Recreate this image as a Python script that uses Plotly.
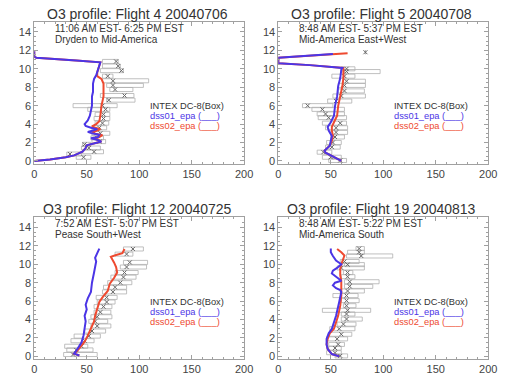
import plotly.graph_objects as go

# ---------------- data ----------------
titles = ["O3 profile: Flight 4 20040706", "O3 profile: Flight 5 20040708",
          "O3 profile: Flight 12 20040725", "O3 profile: Flight 19 20040813"]
time_labels = ["11:06 AM EST- 6:25 PM EST", "8:48 AM EST- 5:37 PM EST",
               "7:52 AM EST- 5:07 PM EST", "8:48 AM EST- 5:22 PM EST"]
region_labels = ["Dryden to Mid-America", "Mid-America East+West",
                 "Pease South+West", "Mid-America South"]
legend_labels = ["INTEX DC-8(Box)", "dss01_epa (___)", "dss02_epa (___)"]
x_ticks = [0, 50, 100, 150, 200]
y_ticks = [0, 2, 4, 6, 8, 10, 12, 14]

# Flight 4
f4_box_alt = [10.8, 10.3, 9.8, 9.2, 8.7, 8.2, 7.75, 7.1, 6.6, 6.0, 5.6, 5.05, 4.6, 4.1, 3.6, 3.0, 2.5, 2.1, 1.8, 1.4, 1.0, 0.75, 0.4]
f4_box_lo = [65, 65, 63, 65, 65, 69, 72, 63, 69, 37, 51, 58, 57, 58, 55, 55, 54, 55, 46, 45, 46, 31, 40]
f4_box_hi = [80, 82, 85, 75, 109, 104, 94, 95, 96, 79, 72, 72, 72, 71, 69, 72, 66, 68, 54, 63, 66, 45, 54]
f4_box_mid = [78, 80, 83, 70, 75, 75, 77, 86, 71, 65, 68, 66, 66, 65, 62, 63, 60, 62, 48, 52, 57, 34, 47]
f4_blue_x = [0, 15, 30, 38, 46, 49, 50, 57, 64, 60, 54, 61, 62, 55, 51, 56, 60, 54, 49, 48, 51, 53, 54, 55, 55, 56, 56, 57, 59, 60, 61, 62, 63, 40, 10, 2, 0, 0]
f4_blue_alt = [0, 0.15, 0.4, 0.6, 1.0, 1.4, 1.7, 1.9, 2.1, 2.3, 2.45, 2.6, 2.85, 3.0, 3.15, 3.3, 3.45, 3.6, 3.8, 4.0, 4.4, 4.9, 5.5, 6.0, 7.0, 7.5, 8.4, 8.9, 9.3, 9.6, 10.0, 10.4, 10.7, 10.9, 11.1, 11.2, 11.3, 11.9]
f4_red_x = [0, 15, 30, 38, 46, 49, 50, 58, 64, 60, 57, 62, 65, 58, 55, 60, 63, 58, 55, 59, 62, 63, 64, 66, 66, 66, 64, 60, 60, 62, 63, 40, 10, 2, 0, 0]
f4_red_alt = [0, 0.15, 0.4, 0.6, 1.0, 1.4, 1.7, 1.9, 2.1, 2.3, 2.45, 2.6, 2.8, 2.95, 3.1, 3.3, 3.45, 3.6, 3.75, 4.0, 4.3, 4.9, 5.95, 7.0, 8.0, 8.4, 8.9, 9.2, 9.6, 10.2, 10.7, 10.9, 11.1, 11.2, 11.3, 11.9]

# Flight 5
f5_box_alt = [11.8, 10.0, 9.7, 9.2, 8.65, 8.2, 7.6, 7.05, 6.5, 6.0, 5.6, 5.1, 4.7, 4.1, 3.6, 3.1, 2.6, 2.0, 1.5, 0.95, 0.4, 0.05]
f5_box_lo = [83, 60, 63, 51, 62, 57, 57, 52, 47, 23, 32, 37, 38, 42, 45, 50, 50, 46, 45, 37, 42, 48]
f5_box_hi = [83, 73, 97, 73, 83, 83, 82, 83, 70, 52, 63, 63, 65, 65, 66, 66, 63, 60, 59, 51, 60, 65]
f5_box_mid = [83, 65, 65, 63, 65, 63, 63, 60, 55, 28, 42, 45, 48, 59, 55, 55, 54, 52, 51, 43, 50, 59]
f5_blue_x = [60, 52, 45, 44, 49, 50, 51, 48, 47, 50, 53, 54, 56, 57, 59, 60, 61, 30, 0, 0, 20, 52]
f5_blue_alt = [0, 0.5, 0.9, 1.1, 1.65, 2.2, 2.7, 3.3, 3.7, 4.2, 4.9, 5.95, 7.0, 8.1, 9.0, 9.9, 10.1, 10.4, 10.6, 11.2, 11.35, 11.6]
f5_red_x = [60, 52, 45, 44, 49, 51, 52, 51, 51, 53, 56, 57, 59, 61, 62, 62, 62, 30, 0, 0, 20, 55, 66]
f5_red_alt = [0, 0.5, 0.9, 1.1, 1.65, 2.2, 2.7, 3.3, 3.7, 4.2, 4.9, 5.95, 7.0, 8.1, 9.0, 9.9, 10.1, 10.4, 10.6, 11.2, 11.35, 11.6, 11.7]

# Flight 12
f12_box_alt = [11.66, 11.1, 10.2, 9.7, 9.1, 8.6, 8.0, 7.5, 7.0, 6.4, 5.9, 5.4, 4.8, 4.3, 3.8, 3.3, 2.75, 2.2, 1.7, 1.1, 0.7, 0.2]
f12_box_lo = [85, 77, 85, 82, 77, 73, 70, 66, 65, 59, 60, 57, 57, 54, 52, 54, 48, 38, 35, 29, 31, 28]
f12_box_hi = [104, 94, 108, 107, 99, 97, 93, 88, 88, 79, 77, 74, 73, 74, 70, 73, 68, 63, 57, 51, 56, 60]
f12_box_mid = [94, 88, 91, 88, 86, 85, 82, 77, 75, 69, 69, 66, 63, 60, 58, 60, 55, 52, 48, 45, 40, 37]
f12_blue_x = [43, 38, 40, 42, 45, 47, 48, 49, 48, 50, 49, 51, 54, 55, 57, 58, 59, 58, 60, 62]
f12_blue_alt = [0.1, 0.3, 0.6, 1.0, 1.5, 2.3, 3.0, 3.8, 4.4, 5.1, 5.6, 6.3, 7.0, 8.0, 9.1, 9.8, 10.3, 10.7, 11.3, 11.7]
f12_red_x = [43, 38, 41, 45, 48, 51, 55, 57, 58, 60, 62, 65, 70, 72, 76, 79, 78, 76, 73, 78, 84, 86]
f12_red_alt = [0.1, 0.3, 0.6, 1.15, 1.6, 2.25, 3.3, 3.8, 4.4, 5.2, 5.9, 6.4, 7.1, 7.9, 8.5, 9.1, 9.7, 10.2, 10.8, 11.0, 11.2, 11.66]

# Flight 19
f19_box_alt = [11.7, 11.3, 10.9, 10.3, 9.96, 9.6, 9.1, 8.65, 8.1, 7.6, 7.1, 6.6, 6.05, 5.5, 5.0, 4.6, 4.05, 3.5, 3.0, 2.4, 1.9, 1.3, 0.9, 0.4, 0.05]
f19_box_lo = [74, 66, 65, 59, 63, 56, 62, 60, 63, 63, 59, 52, 60, 62, 42, 60, 60, 56, 49, 48, 46, 48, 48, 46, 54]
f19_box_hi = [82, 82, 109, 77, 82, 82, 71, 73, 96, 90, 82, 76, 77, 74, 88, 73, 80, 74, 73, 70, 66, 63, 60, 60, 66]
f19_box_mid = [77, 77, 79, 63, 66, 60, 66, 66, 68, 68, 66, 65, 65, 65, 66, 65, 65, 62, 58, 60, 56, 57, 54, 54, 59]
f19_blue_x = [58, 51, 47, 46, 46, 48, 51, 55, 58, 60, 59, 55, 52, 54, 60, 56, 51, 52, 56, 60, 55, 52, 50, 50]
f19_blue_alt = [0, 0.25, 0.8, 1.3, 1.9, 2.5, 3.0, 4.4, 5.9, 7.0, 7.2, 7.4, 7.7, 8.0, 8.2, 8.6, 9.0, 9.3, 9.6, 10.0, 10.4, 10.9, 11.3, 11.7]
f19_red_x = [58, 51, 47, 46, 47, 49, 53, 57, 59, 60, 60, 60, 59, 59, 60, 61, 63, 60, 56]
f19_red_alt = [0, 0.25, 0.8, 1.3, 1.9, 2.5, 3.0, 4.4, 5.5, 6.6, 7.5, 8.2, 8.8, 9.5, 10.0, 10.3, 10.95, 11.3, 11.66]

panels = [
    (f4_box_alt, f4_box_lo, f4_box_hi, f4_box_mid, f4_blue_x, f4_blue_alt, f4_red_x, f4_red_alt),
    (f5_box_alt, f5_box_lo, f5_box_hi, f5_box_mid, f5_blue_x, f5_blue_alt, f5_red_x, f5_red_alt),
    (f12_box_alt, f12_box_lo, f12_box_hi, f12_box_mid, f12_blue_x, f12_blue_alt, f12_red_x, f12_red_alt),
    (f19_box_alt, f19_box_lo, f19_box_hi, f19_box_mid, f19_blue_x, f19_blue_alt, f19_red_x, f19_red_alt),
]

# ---------------- style ----------------
W, H = 507, 379
BLUE = "#4b35e6"
RED = "#ee4a30"
BOXC = "#b0b0b0"
MARK = "#666666"
TXT = "#333333"
AX = "#a0a0a0"
FONT = "Liberation Sans, Arial, sans-serif"
BOX_HALF = 0.22

x_doms = [[32 / W, 247 / W], [282 / W, 497 / W]]
y_doms = [[1 - 165 / H, 1 - 22 / H], [1 - 362 / H, 1 - 219 / H]]
XR = [0, 200]
YR = [-0.3, 15.1]

fig = go.Figure()
layout = dict(width=W, height=H, margin=dict(l=0, r=0, t=0, b=0),
              paper_bgcolor="white", plot_bgcolor="white", showlegend=False,
              font=dict(family=FONT, color=TXT))
annotations = []

for i, (b_alt, b_lo, b_hi, b_mid, bx, by, rx, ry) in enumerate(panels):
    n = i + 1
    xa = "x" if n == 1 else f"x{n}"
    ya = "y" if n == 1 else f"y{n}"
    col = i % 2
    row = i // 2
    # boxes
    px, py = [], []
    for a, lo, hi in zip(b_alt, b_lo, b_hi):
        px += [lo, hi, hi, lo, lo, None]
        py += [a - BOX_HALF, a - BOX_HALF, a + BOX_HALF, a + BOX_HALF, a - BOX_HALF, None]
    fig.add_trace(go.Scatter(x=px, y=py, mode="lines", line=dict(color=BOXC, width=0.8),
                             xaxis=xa, yaxis=ya, hoverinfo="skip"))
    fig.add_trace(go.Scatter(x=b_mid, y=b_alt, mode="markers",
                             marker=dict(symbol="x-thin", size=4, line=dict(width=1, color=MARK)),
                             xaxis=xa, yaxis=ya))
    fig.add_trace(go.Scatter(x=rx, y=ry, mode="lines", line=dict(color=RED, width=2),
                             xaxis=xa, yaxis=ya))
    fig.add_trace(go.Scatter(x=bx, y=by, mode="lines", line=dict(color=BLUE, width=2),
                             xaxis=xa, yaxis=ya))

    axis_common = dict(showgrid=False, zeroline=False, showline=True, linecolor=AX,
                       linewidth=1, mirror="ticks", ticks="inside", tickcolor=AX,
                       ticklen=4, tickfont=dict(size=11, color="#444", family=FONT))
    layout["xaxis" if n == 1 else f"xaxis{n}"] = dict(
        domain=x_doms[col], anchor=ya, range=XR, tickvals=x_ticks,
        minor=dict(ticks="inside", ticklen=2, dtick=10, tickcolor=AX), **axis_common)
    layout["yaxis" if n == 1 else f"yaxis{n}"] = dict(
        domain=y_doms[row], anchor=xa, range=YR, tickvals=y_ticks,
        minor=dict(ticks="inside", ticklen=2, dtick=0.5, tickcolor=AX), **axis_common)

    # title
    annotations.append(dict(text=titles[i], xref="paper", yref="paper",
                            x=sum(x_doms[col]) / 2 - 2 / W, y=y_doms[row][1] + 8 / H,
                            xanchor="center", yanchor="middle", showarrow=False,
                            font=dict(size=14, color=TXT, family=FONT)))
    # header lines
    annotations.append(dict(text=time_labels[i], xref=xa, yref=ya, x=18, y=14.4,
                            xanchor="left", yanchor="middle", showarrow=False,
                            font=dict(size=10, color=TXT, family=FONT)))
    annotations.append(dict(text=region_labels[i], xref=xa, yref=ya, x=18, y=13.2,
                            xanchor="left", yanchor="middle", showarrow=False,
                            font=dict(size=10, color=TXT, family=FONT)))
    # legend texts
    for lab, yy, c in zip(legend_labels, [5.95, 4.85, 3.75], [TXT, BLUE, RED]):
        annotations.append(dict(text=lab, xref=xa, yref=ya, x=108, y=yy,
                                xanchor="left", yanchor="middle", showarrow=False,
                                font=dict(size=9.3, color=c, family=FONT)))

layout["annotations"] = annotations
fig.update_layout(**layout)
fig.write_html("out.html", config={"displayModeBar": False},
               post_script="document.body.style.margin='0';document.body.style.padding='0';")
